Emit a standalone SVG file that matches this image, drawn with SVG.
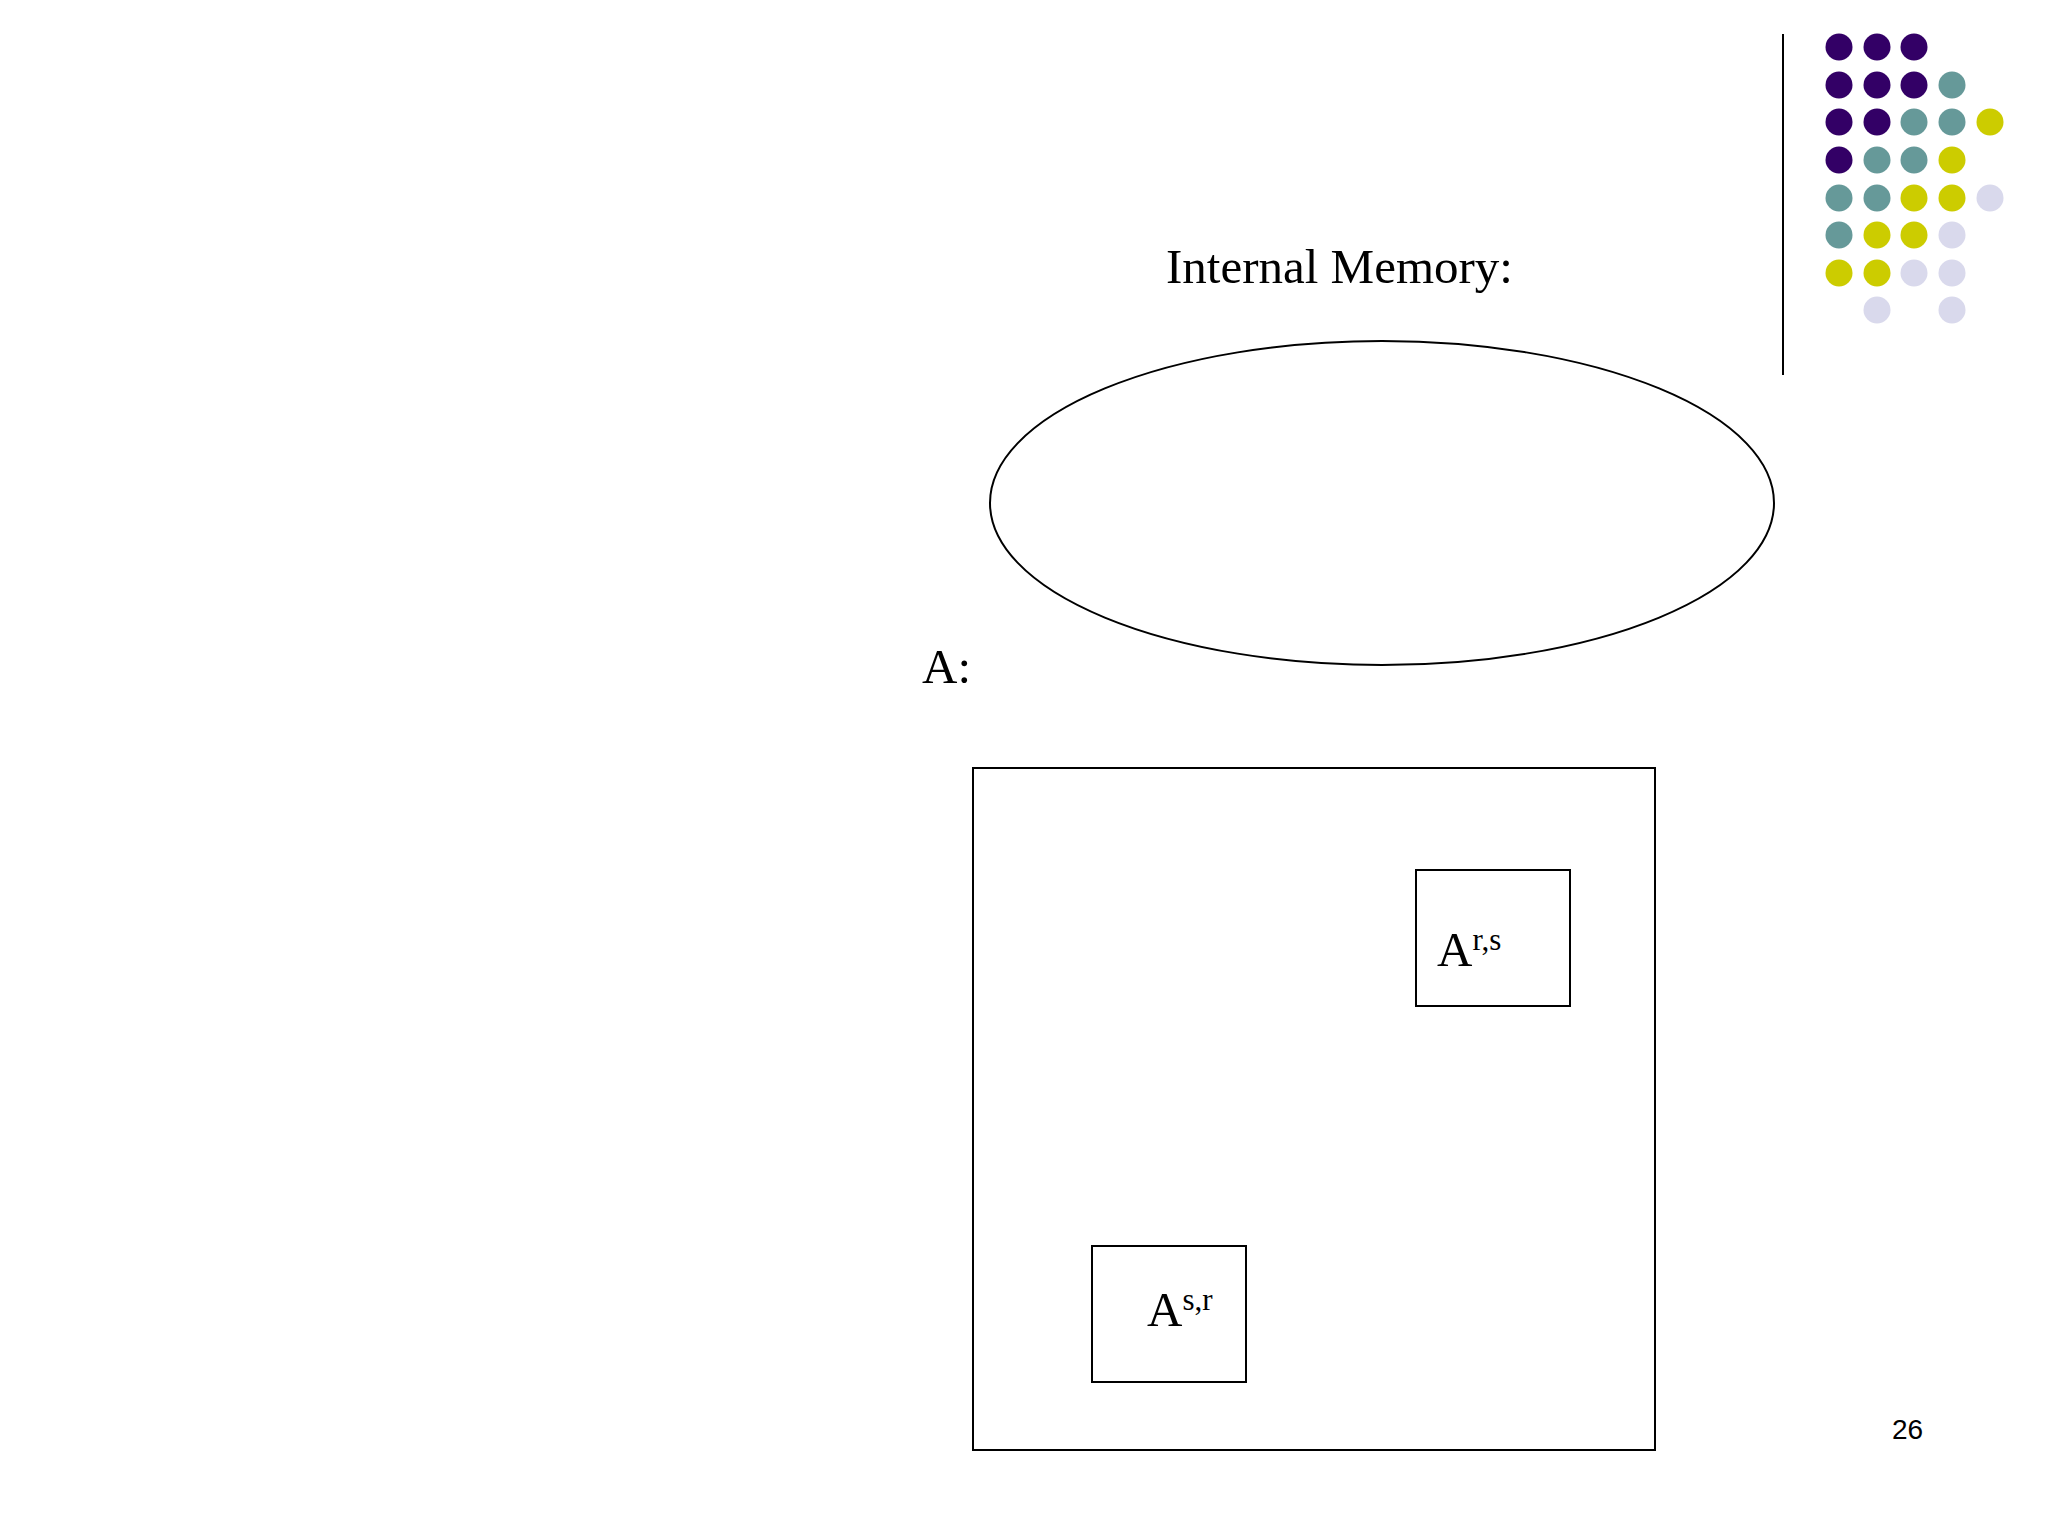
<svg xmlns="http://www.w3.org/2000/svg" width="2048" height="1536" viewBox="0 0 2048 1536">
<style>
.s{fill:none;stroke:#000;stroke-width:2}
.t{font-family:"Liberation Serif",serif;fill:#000}
.P{fill:#330066}.T{fill:#669999}.Y{fill:#CCCC00}.L{fill:#D9D9EC}
</style>
<rect width="2048" height="1536" fill="#fff"/>
<g id="decor">
<line x1="1783" y1="34" x2="1783" y2="375" stroke="#000" stroke-width="2"/>
<g>
<circle class="P" cx="1839" cy="47" r="13.5"/><circle class="P" cx="1877" cy="47" r="13.5"/><circle class="P" cx="1914" cy="47" r="13.5"/>
<circle class="P" cx="1839" cy="85" r="13.5"/><circle class="P" cx="1877" cy="85" r="13.5"/><circle class="P" cx="1914" cy="85" r="13.5"/><circle class="T" cx="1952" cy="85" r="13.5"/>
<circle class="P" cx="1839" cy="122" r="13.5"/><circle class="P" cx="1877" cy="122" r="13.5"/><circle class="T" cx="1914" cy="122" r="13.5"/><circle class="T" cx="1952" cy="122" r="13.5"/><circle class="Y" cx="1990" cy="122" r="13.5"/>
<circle class="P" cx="1839" cy="160" r="13.5"/><circle class="T" cx="1877" cy="160" r="13.5"/><circle class="T" cx="1914" cy="160" r="13.5"/><circle class="Y" cx="1952" cy="160" r="13.5"/>
<circle class="T" cx="1839" cy="198" r="13.5"/><circle class="T" cx="1877" cy="198" r="13.5"/><circle class="Y" cx="1914" cy="198" r="13.5"/><circle class="Y" cx="1952" cy="198" r="13.5"/><circle class="L" cx="1990" cy="198" r="13.5"/>
<circle class="T" cx="1839" cy="235" r="13.5"/><circle class="Y" cx="1877" cy="235" r="13.5"/><circle class="Y" cx="1914" cy="235" r="13.5"/><circle class="L" cx="1952" cy="235" r="13.5"/>
<circle class="Y" cx="1839" cy="273" r="13.5"/><circle class="Y" cx="1877" cy="273" r="13.5"/><circle class="L" cx="1914" cy="273" r="13.5"/><circle class="L" cx="1952" cy="273" r="13.5"/>
<circle class="L" cx="1877" cy="310" r="13.5"/><circle class="L" cx="1952" cy="310" r="13.5"/>
</g>
</g>
<g id="memory">
<text class="t" x="1166" y="283" font-size="49">Internal Memory:</text>
<ellipse class="s" cx="1382" cy="503" rx="392" ry="162"/>
</g>
<g id="matrixA">
<text class="t" x="922" y="683" font-size="49">A:</text>
<rect class="s" x="973" y="768" width="682" height="682"/>
</g>
<g id="Ars">
<rect class="s" x="1416" y="870" width="154" height="136"/>
<text class="t" x="1437" y="966" font-size="49">A<tspan font-size="31" dy="-16">r,s</tspan></text>
</g>
<g id="Asr">
<rect class="s" x="1092" y="1246" width="154" height="136"/>
<text class="t" x="1147" y="1326" font-size="49">A<tspan font-size="31" dy="-16">s,r</tspan></text>
</g>
<g id="connectors"/>
<text x="1892" y="1439" font-family="Liberation Sans,Arial,sans-serif" font-size="28">26</text>
</svg>
